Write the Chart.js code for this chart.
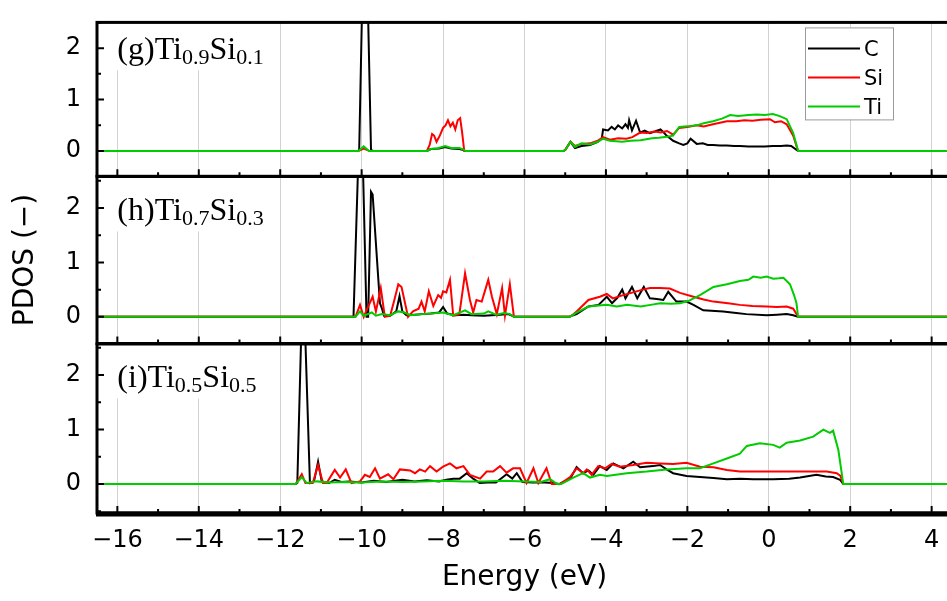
<!DOCTYPE html>
<html>
<head>
<meta charset="utf-8">
<title>PDOS</title>
<script src="https://cdn.jsdelivr.net/npm/chart.js@4.4.1/dist/chart.umd.min.js"></script>
<style>
  html, body { margin: 0; padding: 0; background: #fff; overflow: hidden; }
  #wrap { position: relative; width: 947px; height: 601px; overflow: hidden; }
  #wrap canvas { position: absolute; left: 0; top: 0; }
</style>
</head>
<body>
<div id="wrap">
  <canvas id="panelG" width="960" height="601"></canvas>
  <canvas id="panelH" width="960" height="601"></canvas>
  <canvas id="panelI" width="960" height="601"></canvas>
</div>
<script>
// ---- data (energy in eV, PDOS) ----
const elements = ['C', 'Si', 'Ti'];
const xTicks = [-16, -14, -12, -10, -8, -6, -4, -2, 0, 2, 4];
const yTicks = [0, 1, 2];

// (g) Ti0.9Si0.1
const gC_E = [-16.5, -10.1, -10.06, -9.92, -9.77, -9.7, -8.4, -8.3, -8.1, -7.95, -7.8, -7.6, -7.5, -7.45, -5.05, -5.0, -4.87, -4.76, -4.6, -4.39, -4.2, -4.1, -4.07, -3.95, -3.86, -3.78, -3.7, -3.6, -3.52, -3.46, -3.43, -3.36, -3.26, -3.16, -3.05, -2.92, -2.8, -2.66, -2.58, -2.51, -2.35, -2.2, -2.1, -2.0, -1.92, -1.77, -1.62, -1.5, -1.37, -1.2, -1.03, -0.85, -0.71, -0.5, -0.3, -0.1, 0.1, 0.3, 0.44, 0.55, 0.72, 4.5];
const gC_V = [0, 0, 0.02, 5.5, 0.02, 0, 0, 0.04, 0.05, 0.08, 0.05, 0.04, 0.02, 0, 0, 0.02, 0.18, 0.06, 0.1, 0.12, 0.18, 0.25, 0.42, 0.4, 0.47, 0.42, 0.5, 0.44, 0.52, 0.45, 0.6, 0.4, 0.59, 0.36, 0.4, 0.35, 0.38, 0.42, 0.36, 0.3, 0.2, 0.15, 0.12, 0.15, 0.24, 0.14, 0.15, 0.12, 0.12, 0.11, 0.11, 0.1, 0.1, 0.09, 0.09, 0.09, 0.1, 0.1, 0.11, 0.1, 0, 0];
const gSi_E = [-16.5, -10.08, -9.95, -9.8, -8.4, -8.33, -8.27, -8.22, -8.16, -8.08, -8.0, -7.94, -7.88, -7.82, -7.76, -7.7, -7.64, -7.58, -7.53, -7.48, -5.05, -5.0, -4.87, -4.76, -4.6, -4.39, -4.2, -4.07, -3.9, -3.7, -3.5, -3.35, -3.16, -3.0, -2.8, -2.65, -2.5, -2.35, -2.2, -2.0, -1.77, -1.6, -1.37, -1.2, -1.03, -0.8, -0.6, -0.4, -0.2, 0.03, 0.15, 0.3, 0.44, 0.6, 0.72, 4.5];
const gSi_V = [0, 0, 0.05, 0, 0, 0.12, 0.33, 0.3, 0.18, 0.3, 0.45, 0.5, 0.6, 0.48, 0.55, 0.42, 0.6, 0.64, 0.35, 0, 0, 0.02, 0.18, 0.1, 0.14, 0.15, 0.2, 0.27, 0.22, 0.25, 0.24, 0.27, 0.36, 0.35, 0.38, 0.36, 0.39, 0.32, 0.45, 0.47, 0.5, 0.48, 0.52, 0.55, 0.58, 0.58, 0.6, 0.59, 0.61, 0.62, 0.56, 0.58, 0.52, 0.3, 0, 0];
const gTi_E = [-16.5, -10.08, -9.95, -9.82, -8.4, -8.3, -8.15, -7.95, -7.8, -7.6, -7.5, -7.45, -5.05, -5.0, -4.87, -4.76, -4.6, -4.39, -4.2, -4.07, -3.9, -3.6, -3.4, -3.15, -2.87, -2.7, -2.5, -2.35, -2.2, -2.0, -1.77, -1.6, -1.37, -1.15, -0.95, -0.75, -0.5, -0.3, -0.1, 0.1, 0.27, 0.44, 0.6, 0.72, 4.5];
const gTi_V = [0, 0, 0.09, 0, 0, 0.04, 0.05, 0.1, 0.06, 0.06, 0.03, 0, 0, 0.02, 0.18, 0.08, 0.15, 0.13, 0.18, 0.24, 0.2, 0.18, 0.2, 0.21, 0.25, 0.26, 0.28, 0.3, 0.47, 0.48, 0.5, 0.54, 0.58, 0.63, 0.7, 0.68, 0.7, 0.71, 0.7, 0.72, 0.68, 0.62, 0.35, 0, 0];

// (h) Ti0.7Si0.3
const hC_E = [-16.5, -10.2, -10.02, -9.88, -9.84, -9.77, -9.73, -9.6, -9.55, -9.5, -9.45, -9.3, -9.15, -9.07, -9.0, -8.9, -8.7, -8.5, -8.3, -8.1, -8.0, -7.9, -7.7, -7.5, -7.3, -7.0, -6.8, -6.6, -6.4, -6.3, -6.25, -4.9, -4.84, -4.72, -4.43, -4.18, -3.98, -3.85, -3.72, -3.6, -3.52, -3.36, -3.23, -3.07, -2.92, -2.75, -2.59, -2.47, -2.27, -2.02, -1.85, -1.61, -1.12, -0.8, -0.55, -0.05, 0.2, 0.44, 0.6, 0.72, 4.5];
const hC_V = [0, 0, 4.4, 0, 0, 2.3, 2.25, 0.8, 0.25, 0.15, 0.02, 0.02, 0.1, 0.38, 0.1, 0.03, 0.04, 0.05, 0.06, 0.08, 0.18, 0.06, 0.03, 0.04, 0.03, 0.02, 0.03, 0.04, 0.05, 0.02, 0, 0, 0.02, 0.05, 0.19, 0.22, 0.37, 0.25, 0.35, 0.5, 0.34, 0.55, 0.34, 0.55, 0.34, 0.33, 0.31, 0.46, 0.28, 0.28, 0.22, 0.12, 0.1, 0.07, 0.05, 0.03, 0.04, 0.05, 0.03, 0, 0];
const hSi_E = [-16.5, -10.15, -10.04, -9.95, -9.73, -9.65, -9.53, -9.43, -9.3, -9.2, -9.1, -9.02, -8.86, -8.74, -8.6, -8.53, -8.45, -8.35, -8.24, -8.12, -8.05, -8.0, -7.92, -7.83, -7.75, -7.6, -7.46, -7.34, -7.26, -7.18, -7.05, -6.89, -6.8, -6.68, -6.55, -6.48, -6.36, -6.26, -4.9, -4.84, -4.72, -4.43, -4.15, -3.98, -3.83, -3.58, -3.33, -3.1, -2.92, -2.67, -2.43, -2.18, -1.85, -1.6, -1.36, -1.0, -0.71, -0.4, -0.05, 0.2, 0.44, 0.6, 0.72, 4.5];
const hSi_V = [0, 0, 0.22, 0, 0.37, 0.1, 0.53, 0, 0.02, 0.3, 0.6, 0.55, 0, 0.1, 0.15, 0.28, 0.1, 0.47, 0.2, 0.4, 0.35, 0.47, 0.45, 0.68, 0.02, 0.05, 0.8, 0.31, 0.08, 0.31, 0.28, 0.68, 0.37, 0.05, 0.53, 0.02, 0.6, 0, 0, 0.02, 0.1, 0.31, 0.37, 0.42, 0.34, 0.4, 0.45, 0.5, 0.53, 0.53, 0.52, 0.44, 0.37, 0.32, 0.28, 0.25, 0.22, 0.2, 0.19, 0.18, 0.19, 0.15, 0, 0];
const hTi_E = [-16.5, -10.15, -10.04, -9.95, -9.75, -9.65, -9.5, -9.3, -9.1, -8.95, -8.8, -8.5, -8.0, -7.75, -7.46, -7.3, -7.0, -6.89, -6.7, -6.5, -6.36, -6.26, -4.9, -4.84, -4.72, -4.43, -3.98, -3.73, -3.48, -3.15, -2.9, -2.67, -2.4, -2.18, -1.98, -1.69, -1.36, -1.03, -0.71, -0.5, -0.38, -0.2, -0.05, 0.11, 0.25, 0.36, 0.52, 0.62, 0.68, 0.72, 4.5];
const hTi_V = [0, 0, 0.1, 0.02, 0.08, 0.02, 0.05, 0.03, 0.1, 0.08, 0.03, 0.05, 0.08, 0.03, 0.12, 0.05, 0.06, 0.1, 0.04, 0.07, 0.05, 0, 0, 0.02, 0.08, 0.19, 0.22, 0.19, 0.22, 0.19, 0.22, 0.25, 0.24, 0.25, 0.29, 0.4, 0.55, 0.6, 0.66, 0.68, 0.74, 0.72, 0.74, 0.7, 0.71, 0.72, 0.6, 0.4, 0.25, 0, 0];

// (i) Ti0.5Si0.5
const iC_E = [-16.5, -11.62, -11.58, -11.44, -11.27, -11.17, -11.07, -10.98, -10.8, -10.66, -10.5, -10.3, -10.0, -9.7, -9.4, -9.0, -8.7, -8.4, -8.1, -7.92, -7.75, -7.59, -7.42, -7.26, -7.1, -6.9, -6.7, -6.44, -6.3, -6.19, -6.05, -5.8, -5.5, -5.3, -5.15, -4.88, -4.72, -4.56, -4.43, -4.31, -4.15, -3.98, -3.82, -3.57, -3.45, -3.33, -3.16, -2.84, -2.67, -2.51, -2.35, -2.02, -1.69, -1.36, -1.03, -0.7, -0.38, 0.11, 0.5, 0.77, 1.17, 1.4, 1.58, 1.75, 1.83, 4.5];
const iC_V = [0, 0, 0.02, 4.0, 0.02, 0.05, 0.41, 0.05, 0.02, 0.08, 0.04, 0.05, 0.03, 0.06, 0.04, 0.08, 0.05, 0.07, 0.05, 0.08, 0.1, 0.1, 0.2, 0.1, 0.02, 0.03, 0.03, 0.18, 0.1, 0.2, 0.04, 0.03, 0.03, 0.02, 0, 0.1, 0.31, 0.2, 0.25, 0.17, 0.33, 0.26, 0.38, 0.29, 0.35, 0.41, 0.31, 0.33, 0.35, 0.27, 0.2, 0.15, 0.13, 0.11, 0.09, 0.1, 0.09, 0.09, 0.1, 0.12, 0.17, 0.14, 0.13, 0.08, 0, 0];
const iSi_E = [-16.5, -11.62, -11.47, -11.38, -11.2, -11.07, -10.95, -10.86, -10.66, -10.53, -10.39, -10.25, -10.04, -9.92, -9.8, -9.67, -9.55, -9.35, -9.22, -9.06, -8.81, -8.69, -8.57, -8.44, -8.32, -8.16, -8.0, -7.83, -7.67, -7.5, -7.34, -7.09, -6.93, -6.77, -6.6, -6.44, -6.28, -6.11, -5.95, -5.78, -5.66, -5.46, -5.33, -5.13, -4.88, -4.72, -4.56, -4.47, -4.35, -4.19, -4.02, -3.86, -3.66, -3.33, -3.0, -2.67, -2.35, -2.02, -1.69, -1.36, -1.03, -0.71, 0.11, 0.93, 1.42, 1.67, 1.76, 1.83, 4.5];
const iSi_V = [0, 0, 0.18, 0.02, 0.02, 0.35, 0.02, 0.02, 0.26, 0.12, 0.27, 0.02, 0.05, 0.17, 0.13, 0.29, 0.1, 0.18, 0.09, 0.27, 0.25, 0.2, 0.27, 0.23, 0.33, 0.23, 0.32, 0.38, 0.29, 0.33, 0.17, 0.1, 0.23, 0.23, 0.33, 0.21, 0.29, 0.29, 0.02, 0.29, 0.02, 0.29, 0, 0, 0.13, 0.29, 0.2, 0.27, 0.17, 0.33, 0.29, 0.37, 0.32, 0.35, 0.39, 0.38, 0.37, 0.39, 0.32, 0.31, 0.26, 0.23, 0.23, 0.23, 0.23, 0.2, 0.15, 0, 0];
const iTi_E = [-16.5, -11.62, -11.47, -11.35, -11.1, -10.8, -10.4, -10.0, -9.5, -9.0, -8.5, -8.0, -7.5, -7.0, -6.5, -6.0, -5.6, -5.37, -5.2, -5.1, -4.8, -4.56, -4.39, -4.15, -3.98, -3.49, -3.0, -2.51, -2.02, -1.69, -1.36, -1.03, -0.71, -0.54, -0.22, 0.11, 0.27, 0.44, 0.77, 1.09, 1.34, 1.5, 1.58, 1.71, 1.83, 4.5];
const iTi_V = [0, 0, 0.13, 0.02, 0.05, 0.03, 0.04, 0.03, 0.05, 0.04, 0.05, 0.06, 0.05, 0.05, 0.06, 0.05, 0.04, 0.09, 0, 0, 0.12, 0.2, 0.12, 0.17, 0.15, 0.2, 0.23, 0.27, 0.29, 0.29, 0.38, 0.47, 0.56, 0.7, 0.75, 0.72, 0.67, 0.76, 0.8, 0.87, 1.0, 0.94, 0.98, 0.62, 0, 0];

const colors = { C: '#000000', Si: '#ff0000', Ti: '#00cc00' };
const sansFont = '"DejaVu Sans", "Liberation Sans", Arial, sans-serif';
const serifFont = '"Liberation Serif", "Times New Roman", serif';

Chart.defaults.font.family = sansFont;
Chart.defaults.color = '#000';

function toPoints(es, vs) {
    return es.map((e, i) => ({ x: e, y: vs[i] }));
}

function buildSets(series) {
    // series: [[E, V], [E, V], [E, V]] for C, Si, Ti
    return elements.map((el, k) => ({
        label: el,
        data: toPoints(series[k][0], series[k][1]),
        borderColor: colors[el],
        borderWidth: 2,
        pointRadius: 0,
        tension: 0,
        fill: false,
        order: 3 - k   // Ti on top
    }));
}

// frame, inward ticks, composition label and legend
const panelDecor = {
    id: 'panelDecor',
    beforeDatasetsDraw(chart, args, opts) {
        const { ctx, chartArea, scales } = chart;
        ctx.save();
        ctx.fillStyle = '#fff';
        const l = chartArea.left + 2;
        const r = scales.x.getPixelForValue(opts.boxRight);
        const b = scales.y.getPixelForValue(opts.boxBottom);
        ctx.fillRect(l, chartArea.top, r - l, b - chartArea.top);
        if (opts.legend) {
            const lg = opts.legend;
            ctx.fillRect(chartArea.right - lg.right, chartArea.top + lg.top, lg.w, lg.h);
        }
        ctx.restore();
    },
    afterDraw(chart, args, opts) {
        const { ctx, chartArea, scales } = chart;
        const xs = scales.x, ys = scales.y;
        ctx.save();

        // composition label
        let px = xs.getPixelForValue(opts.labelX);
        const base = ys.getPixelForValue(opts.labelY);
        ctx.fillStyle = '#000';
        ctx.textBaseline = 'alphabetic';
        ctx.textAlign = 'left';
        opts.label.forEach(part => {
            ctx.font = (part[1] ? '22px ' : '32px ') + serifFont;
            ctx.fillText(part[0], px, part[1] ? base + 5 : base);
            px += ctx.measureText(part[0]).width;
        });

        // legend
        if (opts.legend) {
            const lg = opts.legend;
            const lx = chartArea.right - lg.right, ly = chartArea.top + lg.top;
            ctx.strokeStyle = '#9a9a9a';
            ctx.lineWidth = 1;
            ctx.strokeRect(lx + 0.5, ly + 0.5, lg.w, lg.h);
            ctx.font = '21px ' + sansFont;
            ctx.textBaseline = 'middle';
            chart.data.datasets.forEach((ds, i) => {
                const yy = ly + 21 + i * 29;
                ctx.strokeStyle = ds.borderColor;
                ctx.lineWidth = 2;
                ctx.beginPath();
                ctx.moveTo(lx + 3, yy);
                ctx.lineTo(lx + 55, yy);
                ctx.stroke();
                ctx.fillStyle = '#000';
                ctx.fillText(ds.label, lx + 59, yy + 2);
            });
        }

        // tick marks (inward)
        ctx.strokeStyle = '#000';
        ctx.lineWidth = 2;
        ctx.beginPath();
        for (let v = Math.ceil(xs.min); v <= xs.max; v++) {
            const p = xs.getPixelForValue(v);
            const len = v % 2 === 0 ? 7 : 4;
            ctx.moveTo(p, chartArea.bottom);
            ctx.lineTo(p, chartArea.bottom - len);
        }
        for (let v = Math.ceil(ys.min * 2) / 2; v <= ys.max; v += 0.5) {
            const p = ys.getPixelForValue(v);
            const len = Number.isInteger(v) ? 7 : 4;
            ctx.moveTo(chartArea.left, p);
            ctx.lineTo(chartArea.left + len, p);
        }
        ctx.stroke();

        // frame
        ctx.lineWidth = 3;
        ctx.strokeRect(chartArea.left, chartArea.top, chartArea.right - chartArea.left, chartArea.bottom - chartArea.top);
        if (opts.thickBottom) {
            ctx.lineWidth = 5;
            ctx.beginPath();
            ctx.moveTo(chartArea.left - 1, chartArea.bottom + 1);
            ctx.lineTo(chartArea.right, chartArea.bottom + 1);
            ctx.stroke();
        }
        ctx.restore();
    }
};

function makePanel(id, series, cfg) {
    const ctx = document.getElementById(id);
    return new Chart(ctx, {
        type: 'line',
        data: { datasets: buildSets(series) },
        options: {
            responsive: false,
            animation: false,
            devicePixelRatio: 1,
            layout: { padding: { left: 0, right: 8, top: cfg.top, bottom: cfg.bottom } },
            plugins: {
                legend: { display: false },
                tooltip: { enabled: false },
                panelDecor: {
                    label: cfg.label,
                    labelX: -16,
                    labelY: 1.78,
                    boxRight: -12.25,
                    boxBottom: 1.57,
                    legend: cfg.legend || null,
                    thickBottom: cfg.showX
                }
            },
            scales: {
                x: {
                    type: 'linear',
                    min: -16.5,
                    max: 4.5,
                    afterFit: s => { s.height = cfg.xHeight; },
                    afterBuildTicks: s => { s.ticks = xTicks.map(v => ({ value: v })); },
                    grid: { color: '#d2d2d2', lineWidth: 1, drawTicks: false },
                    border: { display: false },
                    ticks: {
                        display: cfg.showX,
                        padding: 13,
                        font: { size: 24 },
                        callback: v => String(v).replace('-', '\u2212')
                    },
                    title: {
                        display: cfg.showX,
                        text: 'Energy (eV)',
                        font: { size: 28 },
                        padding: { top: 6, bottom: 6 }
                    }
                },
                y: {
                    type: 'linear',
                    min: cfg.yMin,
                    max: cfg.yMax,
                    afterFit: s => { s.width = 97; },
                    afterBuildTicks: s => { s.ticks = yTicks.map(v => ({ value: v })); },
                    grid: { display: false },
                    border: { display: false },
                    ticks: { padding: 8, font: { size: 24 } },
                    title: {
                        display: !!cfg.yTitle,
                        text: cfg.yTitle || '',
                        font: { size: 28 },
                        padding: { top: 9, bottom: 9 }
                    }
                }
            }
        },
        plugins: [panelDecor]
    });
}

makePanel('panelG', [[gC_E, gC_V], [gSi_E, gSi_V], [gTi_E, gTi_V]], {
    top: 13.3, bottom: 601 - 176.3, xHeight: 0, showX: false,
    yMin: -0.49, yMax: 2.5,
    label: [['(g)Ti', false], ['0.9', true], ['Si', false], ['0.1', true]],
    legend: { right: 147, top: 5, w: 88, h: 92 }
});
makePanel('panelH', [[hC_E, hC_V], [hSi_E, hSi_V], [hTi_E, hTi_V]], {
    top: 176.5, bottom: 601 - 343.5, xHeight: 0, showX: false,
    yMin: -0.49, yMax: 2.58, yTitle: 'PDOS (\u2212)',
    label: [['(h)Ti', false], ['0.7', true], ['Si', false], ['0.3', true]]
});
makePanel('panelI', [[iC_E, iC_V], [iSi_E, iSi_V], [iTi_E, iTi_V]], {
    top: 344, bottom: 0, xHeight: 601 - 513, showX: true,
    yMin: -0.53, yMax: 2.57,
    label: [['(i)Ti', false], ['0.5', true], ['Si', false], ['0.5', true]]
});
</script>
</body>
</html>
